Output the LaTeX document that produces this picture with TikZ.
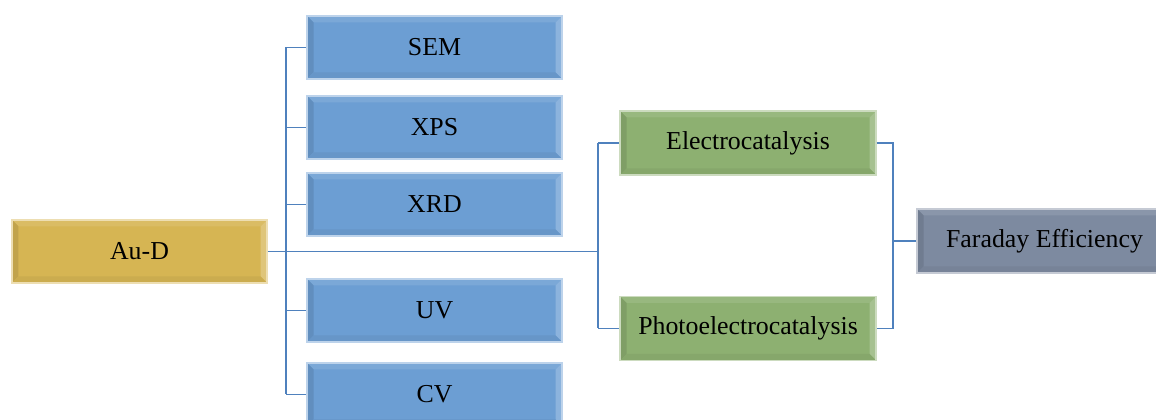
\documentclass[tikz,border=0pt]{standalone}
\usepackage{fontspec}
\setmainfont{Liberation Serif}
\usepackage{xcolor}
\definecolor{boxgold}{RGB}{214,181,83}
\definecolor{boxblue}{RGB}{108,158,211}
\definecolor{boxgreen}{RGB}{141,176,113}
\definecolor{boxgray}{RGB}{125,138,160}
\definecolor{linkblue}{RGB}{79,129,189}
\usetikzlibrary{positioning,calc}

\tikzset{
  bevelbox/.style={rectangle, fill=#1, draw=#1!45!white, line width=0.6pt,
    minimum width=5.1cm, minimum height=1.26cm, inner sep=0pt,
    font=\fontsize{14.7}{17}\selectfont,
    path picture={
      \def\bv{0.13}
      \fill[#1!90!white] (path picture bounding box.north west) -- (path picture bounding box.north east)
        -- ($(path picture bounding box.north east)+(-\bv,-\bv)$) -- ($(path picture bounding box.north west)+(\bv,-\bv)$) -- cycle;
      \fill[#1!78!white] (path picture bounding box.north east) -- (path picture bounding box.south east)
        -- ($(path picture bounding box.south east)+(-\bv,\bv)$) -- ($(path picture bounding box.north east)+(-\bv,-\bv)$) -- cycle;
      \fill[#1!90!black] (path picture bounding box.north west) -- (path picture bounding box.south west)
        -- ($(path picture bounding box.south west)+(\bv,\bv)$) -- ($(path picture bounding box.north west)+(\bv,-\bv)$) -- cycle;
      \fill[#1!95!black] (path picture bounding box.south west) -- (path picture bounding box.south east)
        -- ($(path picture bounding box.south east)+(-\bv,\bv)$) -- ($(path picture bounding box.south west)+(\bv,\bv)$) -- cycle;
    }},
  link/.style={draw=linkblue, line width=0.9pt}
}

\begin{document}
\begin{tikzpicture}
  \useasboundingbox (0,0) rectangle (23.12,8.4);

  %% Sample
  \node[bevelbox=boxgold] (aud) at (2.79,3.37) {Au-D};

  %% Characterisation
  \node[bevelbox=boxblue] (sem) at (8.69,7.45) {SEM};
  \node[bevelbox=boxblue] (xps) at (8.69,5.85) {XPS};
  \node[bevelbox=boxblue] (xrd) at (8.69,4.31) {XRD};
  \node[bevelbox=boxblue] (uv)  at (8.69,2.19) {UV};
  \node[bevelbox=boxblue] (cv)  at (8.69,0.51) {CV};

  %% Catalysis
  \node[bevelbox=boxgreen, minimum width=5.12cm, minimum height=1.28cm] (elec)  at (14.96,5.54) {Electrocatalysis};
  \node[bevelbox=boxgreen, minimum width=5.12cm, minimum height=1.28cm] (photo) at (14.96,1.83) {Photoelectrocatalysis};

  %% Result
  \node[bevelbox=boxgray, minimum height=1.28cm] (fe) at (20.89,3.58) {Faraday Efficiency};

  %% Buses
  \coordinate (lbus) at (5.72,0);
  \coordinate (ebus) at (11.96,0);
  \coordinate (rbus) at (17.86,0);

  \draw[link] (sem.west -| lbus) -- (cv.west -| lbus);
  \foreach \n in {sem,xps,xrd,uv,cv}
    \draw[link] (\n.west -| lbus) -- (\n.west);
  \draw[link] (aud.east) -- (aud.east -| ebus);

  \draw[link] (elec.west -| ebus) -- (photo.west -| ebus);
  \draw[link] (elec.west -| ebus) -- (elec.west);
  \draw[link] (photo.west -| ebus) -- (photo.west);

  \draw[link] (elec.east) -- (elec.east -| rbus) -- (photo.east -| rbus) -- (photo.east);
  \draw[link] (fe.west -| rbus) -- (fe.west);
\end{tikzpicture}
\end{document}
